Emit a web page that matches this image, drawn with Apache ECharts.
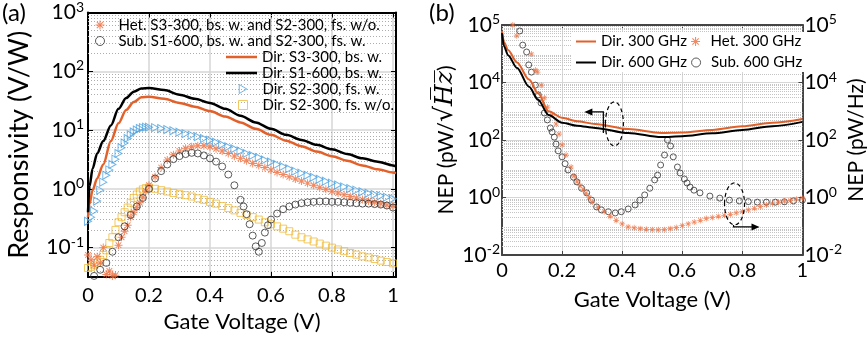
<!DOCTYPE html>
<html>
<head>
<meta charset="utf-8">
<script src="https://cdn.jsdelivr.net/npm/echarts@6/dist/echarts.min.js"></script>
<style>
  html, body { margin: 0; padding: 0; background: #fff; }
  #chart { width: 868px; height: 338px; }
</style>
</head>
<body>
<div id="chart"></div>
<script>
// ---------- panel (a): responsivity vs gate voltage ----------
const lineV = [0, 0.005, 0.015, 0.03, 0.05, 0.075, 0.1, 0.125, 0.15, 0.175, 0.2, 0.25, 0.3, 0.35,
  0.4, 0.45, 0.5, 0.55, 0.6, 0.65, 0.7, 0.75, 0.8, 0.85, 0.9, 0.95, 1.0, 1.01];
const dirS1_600 = [0.4, 1.1, 2.2, 4.0, 6.5, 12, 23, 35, 45, 51, 52, 48, 40, 34,
  29, 23, 17.5, 13.5, 10.5, 8.3, 6.8, 5.6, 4.7, 3.9, 3.3, 2.9, 2.5, 2.4];
const dirS3_300 = [0.33, 0.55, 0.95, 1.5, 2.6, 6.5, 13, 22, 30, 36, 37, 34, 29, 25,
  21, 17, 13.5, 10.5, 8.3, 6.6, 5.3, 4.3, 3.6, 3.0, 2.5, 2.15, 1.9, 1.85];

const denseV = [0, 0.01, 0.02, 0.03, 0.04, 0.05, 0.06, 0.07, 0.08, 0.09, 0.1, 0.11, 0.12, 0.13, 0.14,
  0.15, 0.16, 0.17, 0.18, 0.19, 0.2, 0.22, 0.24, 0.26, 0.28, 0.3, 0.32, 0.34, 0.36, 0.38, 0.4,
  0.42, 0.44, 0.46, 0.48, 0.5, 0.52, 0.54, 0.56, 0.58, 0.6, 0.62, 0.64, 0.66, 0.68, 0.7, 0.72,
  0.74, 0.76, 0.78, 0.8, 0.82, 0.84, 0.86, 0.88, 0.9, 0.92, 0.94, 0.96, 0.98, 1.0];
const dirS2_fsW = [0.28, 0.33, 0.42, 0.62, 0.95, 1.3, 1.7, 2.1, 2.6, 3.2, 4.0, 5.0, 6.0, 7.2, 8.3,
  9.3, 10.0, 10.6, 11.0, 11.2, 11.2, 11, 10.6, 10.2, 9.7, 9.2, 8.7, 8.2, 7.7, 7.2, 6.7,
  6.2, 5.7, 5.2, 4.8, 4.4, 4.0, 3.7, 3.4, 3.1, 2.85, 2.6, 2.4, 2.2, 2.0, 1.85, 1.7,
  1.57, 1.45, 1.35, 1.25, 1.16, 1.08, 1.01, 0.95, 0.89, 0.84, 0.8, 0.76, 0.72, 0.68];
const dirS2_fsWo = [0.045, 0.047, 0.05, 0.055, 0.062, 0.075, 0.09, 0.12, 0.15, 0.2, 0.27, 0.33, 0.4, 0.48, 0.58,
  0.7, 0.8, 0.9, 0.98, 1.03, 1.05, 1.0, 0.95, 0.9, 0.85, 0.81, 0.78, 0.74, 0.69, 0.65, 0.6,
  0.56, 0.51, 0.47, 0.43, 0.39, 0.36, 0.33, 0.3, 0.27, 0.25, 0.23, 0.21, 0.19, 0.166, 0.15, 0.138,
  0.127, 0.117, 0.108, 0.1, 0.093, 0.087, 0.081, 0.076, 0.071, 0.068, 0.064, 0.06, 0.057, 0.054];
const hetS3_300 = [0.075, 0.062, 0.05, 0.07, 0.055, 0.1, 0.035, 0.04, 0.033, 0.034, 0.11, 0.15, 0.19, 0.24, 0.33,
  0.4, 0.48, 0.58, 0.72, 0.92, 1.15, 1.6, 2.3, 3.1, 3.8, 4.4, 4.9, 5.2, 5.4, 5.4, 5.2,
  4.8, 4.4, 4.0, 3.6, 3.3, 3.0, 2.7, 2.5, 2.3, 2.1, 1.9, 1.75, 1.6, 1.47, 1.36, 1.25,
  1.15, 1.06, 0.98, 0.91, 0.85, 0.79, 0.74, 0.7, 0.66, 0.62, 0.59, 0.56, 0.53, 0.51];

const subV = [0.02, 0.04, 0.06, 0.08, 0.1, 0.12, 0.14, 0.16, 0.18, 0.2, 0.22, 0.24, 0.26, 0.28, 0.3,
  0.32, 0.34, 0.36, 0.38, 0.4, 0.42, 0.44, 0.46, 0.48, 0.5, 0.51, 0.52, 0.53, 0.54, 0.55,
  0.56, 0.57, 0.58, 0.59, 0.6, 0.62, 0.64, 0.66, 0.68, 0.7, 0.72, 0.74, 0.76, 0.78, 0.8,
  0.82, 0.84, 0.86, 0.88, 0.9, 0.92, 0.94, 0.96, 0.98, 1.0];
const subS1_600 = [0.033, 0.042, 0.055, 0.085, 0.15, 0.23, 0.36, 0.5, 0.7, 1.0, 1.5, 2.0, 2.6, 3.2, 3.6,
  3.9, 4.1, 4.0, 3.7, 3.3, 2.9, 2.4, 1.75, 1.15, 0.65, 0.5, 0.37, 0.25, 0.16, 0.105,
  0.085, 0.12, 0.18, 0.24, 0.3, 0.38, 0.45, 0.5, 0.54, 0.57, 0.59, 0.6, 0.61, 0.61, 0.6,
  0.6, 0.59, 0.58, 0.57, 0.56, 0.56, 0.55, 0.54, 0.52, 0.48];

// ---------- panel (b): NEP vs gate voltage ----------
const nepLineV = [0, 0.007, 0.02, 0.05, 0.09, 0.12, 0.155, 0.2, 0.25, 0.31, 0.42, 0.53, 0.6, 0.7, 0.8, 0.9, 1.0];
const nepDir300 = [6.3e5, 2.5e5, 1.35e5, 5.0e4, 1.26e4, 4.2e3, 1.0e3, 590, 450, 360, 240, 175, 182, 224, 300, 400, 540];
const nepDir600 = [5.2e5, 1.8e5, 8.9e4, 3.2e4, 7.1e3, 2.5e3, 740, 400, 316, 263, 174, 126, 135, 170, 224, 302, 427];

const nepHetV = [0.036, 0.049, 0.098, 0.111, 0.118, 0.131, 0.141, 0.151, 0.167, 0.18, 0.19, 0.2, 0.213, 0.23,
  0.24, 0.25, 0.26, 0.27, 0.28, 0.29, 0.3, 0.32, 0.34, 0.36, 0.38, 0.4, 0.42, 0.44, 0.46, 0.48,
  0.5, 0.52, 0.54, 0.56, 0.58, 0.6, 0.62, 0.64, 0.66, 0.68, 0.7, 0.72, 0.74, 0.76, 0.78, 0.8,
  0.82, 0.84, 0.86, 0.88, 0.9, 0.92, 0.94, 0.96, 0.98, 1.0];
const nepHet300 = [1e6, 4.2e5, 9.8e4, 2.7e4, 2.3e4, 8.1e3, 2.9e3, 1.4e3, 740, 360, 160, 68, 30, 11.5,
  5.5, 3.6, 2.6, 1.9, 1.4, 1.0, 0.7, 0.45, 0.32, 0.22, 0.16, 0.12, 0.095, 0.088, 0.082, 0.078,
  0.076, 0.075, 0.076, 0.082, 0.09, 0.105, 0.12, 0.14, 0.16, 0.185, 0.2, 0.22, 0.24, 0.26, 0.29, 0.32,
  0.37, 0.42, 0.48, 0.55, 0.62, 0.69, 0.75, 0.8, 0.87, 0.95];

const nepSubV = [0.059, 0.069, 0.082, 0.089, 0.098, 0.111, 0.121, 0.13, 0.141, 0.151, 0.161, 0.167, 0.174,
  0.18, 0.187, 0.2, 0.21, 0.22, 0.238, 0.249, 0.265, 0.282, 0.298, 0.315, 0.331, 0.354, 0.377,
  0.397, 0.42, 0.443, 0.459, 0.475, 0.492, 0.508, 0.518, 0.528, 0.541, 0.551, 0.561, 0.57,
  0.584, 0.593, 0.607, 0.616, 0.626, 0.639, 0.659, 0.692, 0.725, 0.757, 0.79, 0.82, 0.85,
  0.88, 0.91, 0.94, 0.97, 1.0];
const nepSub600 = [6.2e5, 2.0e5, 1.15e5, 4.1e4, 2.3e4, 8.1e3, 3.7e3, 1.95e3, 870, 500, 263, 190, 126,
  72, 42, 26, 15, 9.1, 5.1, 3.5, 2.1, 1.45, 0.81, 0.47, 0.37, 0.32, 0.29,
  0.32, 0.4, 0.55, 0.81, 1.23, 2.1, 4.1, 6.0, 13.5, 30, 100, 62, 26,
  11.5, 7.1, 4.4, 3.2, 2.3, 1.8, 1.45, 1.12, 0.95, 0.81, 0.76, 0.72, 0.69,
  0.69, 0.69, 0.71, 0.76, 0.81];

// tick labels of the NEP axes as printed (exponent text per tick)
const nepTickValues = [1e-2, 1, 1e2, 1e4, 1e6];
const nepTickExp = ['-2', '0', '2', '4', '5'];

// annotation anchors (data coords of panel b)
const leftArrowAnchor = [0.374, 363];
const rightArrowAnchor = [0.774, 0.6];

const FONT = 'Lato';
const zip = (xs, ys) => xs.map((x, i) => [x, ys[i]]);
const asterisk = 'path://M-10,-1.2L10,-1.2L10,1.2L-10,1.2Z M-1.2,-10L1.2,-10L1.2,10L-1.2,10Z ' +
  'M-6.22,-7.92L7.92,6.22L6.22,7.92L-7.92,-6.22Z M-7.92,6.22L6.22,-7.92L7.92,-6.22L-6.22,7.92Z';
const triRight = 'path://M0,0L10,6L0,12Z';
const barIconA = 'path://M0,0H31V2.5H0Z';
const barIconB = 'path://M0,0H20V2H0Z';

const C_ORANGE = '#e2612a';
const C_AST = '#ee6d3c';
const C_BLUE = '#4da3e0';
const C_YELLOW = '#f0bd3c';

function minorLines(lo, hi) {
  const out = [];
  for (let d = -3; d <= 6; d++) {
    for (let k = 2; k <= 9; k++) {
      const v = k * Math.pow(10, d);
      if (v > lo && v < hi) out.push({ yAxis: v });
    }
  }
  return out;
}

const supRich = {
  b: { fontSize: 21, fontFamily: FONT, color: '#000', lineHeight: 25 },
  s: { fontSize: 14, fontFamily: FONT, color: '#000', verticalAlign: 'top', lineHeight: 15 }
};
function decadeLabel(v) {
  const e = Math.log10(v);
  if (Math.abs(e - Math.round(e)) > 1e-6) return '';
  return '{b|10}{s|' + Math.round(e) + '}';
}
function nepLabel(v) {
  const e = Math.log10(v);
  for (let i = 0; i < nepTickValues.length; i++) {
    if (Math.abs(Math.log10(nepTickValues[i]) - e) < 1e-6) return '{b|10}{s|' + nepTickExp[i] + '}';
  }
  return '';
}
const xLabelFmt = v => (Math.abs(v * 5 - Math.round(v * 5)) < 1e-6 ? String(+v.toFixed(1)) : '');

const rMin = Math.pow(10, -1.5);
const rMax = 1000;
const legendText = { fontFamily: FONT, fontSize: 15, lineHeight: 16, color: '#000' };

const chart = echarts.init(document.getElementById('chart'));
chart.setOption({
  animation: false,
  backgroundColor: '#fff',
  title: [
    { text: '(a)', left: 2, top: 1, padding: 0, textStyle: { fontFamily: FONT, fontSize: 24, fontWeight: 'normal', color: '#000' } },
    { text: '(b)', left: 429, top: 1, padding: 0, textStyle: { fontFamily: FONT, fontSize: 24, fontWeight: 'normal', color: '#000' } }
  ],
  grid: [
    { left: 88, top: 8, width: 308, height: 269 },
    { left: 502, top: 25, width: 305, height: 230 }
  ],
  legend: [
    {
      left: 95, top: 17, orient: 'vertical', padding: 0, itemGap: 0, itemWidth: 9, itemHeight: 9,
      textStyle: Object.assign({ padding: [0, 0, 0, 9] }, legendText),
      data: [
        { name: 'Het. S3-300, bs. w. and S2-300, fs. w/o.', itemStyle: { color: C_AST, borderWidth: 0 } },
        { name: 'Sub. S1-600, bs. w. and S2-300, fs. w.', itemStyle: { color: 'transparent', borderColor: '#333', borderWidth: 1 } }
      ]
    },
    {
      left: 226, top: 49, orient: 'vertical', padding: 0, itemGap: 0, itemWidth: 31, itemHeight: 9,
      textStyle: legendText,
      data: [
        { name: 'Dir. S3-300, bs. w.', icon: barIconA, itemStyle: { color: C_ORANGE, borderWidth: 0 } },
        { name: 'Dir. S1-600, bs. w.', icon: barIconA, itemStyle: { color: '#000', borderWidth: 0 } }
      ]
    },
    {
      left: 238, top: 81, orient: 'vertical', padding: 0, itemGap: 0, itemWidth: 9, itemHeight: 9,
      textStyle: Object.assign({ padding: [0, 0, 0, 10] }, legendText),
      data: [
        { name: 'Dir. S2-300, fs. w.', icon: triRight, itemStyle: { color: 'transparent', borderColor: C_BLUE, borderWidth: 1 } },
        { name: 'Dir. S2-300, fs. w/o.', itemStyle: { color: 'transparent', borderColor: C_YELLOW, borderWidth: 1 } }
      ]
    },
    {
      left: 572, top: 32, width: 240, padding: [1, 4], itemGap: 4, itemWidth: 20, itemHeight: 9,
      backgroundColor: '#fff', z: 6,
      textStyle: { fontFamily: FONT, fontSize: 15, lineHeight: 17, color: '#000' },
      data: [
        { name: 'Dir. 300 GHz', icon: barIconB, itemStyle: { color: C_ORANGE, borderWidth: 0 } },
        { name: 'Het. 300 GHz', itemStyle: { color: C_AST, borderWidth: 0 } },
        { name: 'Dir. 600 GHz', icon: barIconB, itemStyle: { color: '#000', borderWidth: 0 } },
        { name: 'Sub. 600 GHz', itemStyle: { color: 'transparent', borderColor: '#333', borderWidth: 1 } }
      ]
    }
  ],
  xAxis: [
    {
      gridIndex: 0, type: 'value', min: 0, max: 1.01, interval: 0.2,
      name: 'Gate Voltage (V)', nameLocation: 'middle', nameGap: 32,
      nameTextStyle: { fontFamily: FONT, fontSize: 22, color: '#000' },
      axisLine: { lineStyle: { color: '#000', width: 2 } },
      axisTick: { inside: true, length: 5, lineStyle: { color: '#000' } },
      axisLabel: { fontFamily: FONT, fontSize: 20, color: '#000', margin: 9, formatter: xLabelFmt, showMaxLabel: false },
      splitLine: { show: true, lineStyle: { color: '#d6d6d6', width: 1.5 } }
    },
    {
      gridIndex: 0, type: 'value', position: 'top', min: 0, max: 1.01, interval: 0.2,
      axisLine: { onZero: false, lineStyle: { color: '#000', width: 2 } },
      axisTick: { inside: true, length: 5, lineStyle: { color: '#000' } },
      axisLabel: { show: false }, splitLine: { show: false }
    },
    {
      gridIndex: 1, type: 'value', min: 0, max: 1, interval: 0.2,
      name: 'Gate Voltage (V)', nameLocation: 'middle', nameGap: 34,
      nameTextStyle: { fontFamily: FONT, fontSize: 22, color: '#000' },
      axisLine: { lineStyle: { color: '#444', width: 2 } },
      axisTick: { inside: true, length: 4, lineStyle: { color: '#444' } },
      axisLabel: { fontFamily: FONT, fontSize: 20, color: '#000', margin: 6, formatter: xLabelFmt },
      splitLine: { show: true, lineStyle: { color: '#d6d6d6', width: 1 } }
    },
    {
      gridIndex: 1, type: 'value', position: 'top', min: 0, max: 1, interval: 0.2,
      axisLine: { onZero: false, lineStyle: { color: '#444', width: 2 } },
      axisTick: { inside: true, length: 4, lineStyle: { color: '#444' } },
      axisLabel: { show: false }, splitLine: { show: false }
    }
  ],
  yAxis: [
    {
      gridIndex: 0, type: 'log', logBase: 10, min: rMin, max: rMax, splitNumber: 5,
      name: 'Responsivity (V/W)', nameLocation: 'middle', nameGap: 55, nameRotate: 90,
      nameTextStyle: { fontFamily: FONT, fontSize: 27, color: '#000' },
      axisLine: { lineStyle: { color: '#000', width: 2 } },
      axisTick: { inside: true, length: 5, lineStyle: { color: '#000' } },
      axisLabel: { formatter: decadeLabel, rich: supRich, margin: 4, showMinLabel: false },
      splitLine: { show: true, lineStyle: { color: '#d6d6d6', width: 1.5 } }
    },
    {
      gridIndex: 0, type: 'log', logBase: 10, position: 'right', min: rMin, max: rMax, splitNumber: 5,
      axisLine: { onZero: false, lineStyle: { color: '#000', width: 2 } },
      axisTick: { inside: true, length: 5, lineStyle: { color: '#000' } },
      axisLabel: { show: false }, splitLine: { show: false }
    },
    {
      gridIndex: 1, type: 'log', logBase: 10, min: 1e-2, max: 1e6, interval: 2, splitNumber: 4,
      name: '{n|NEP (pW/}{r|√}{hz|H\u0305z\u0305}{n|)}', nameLocation: 'middle', nameGap: 38, nameRotate: 90,
      nameTextStyle: {
        fontFamily: FONT, fontSize: 21, color: '#000',
        rich: {
          n: { fontFamily: FONT, fontSize: 21, color: '#000' },
          r: { fontFamily: 'DejaVu Sans', fontSize: 25, color: '#000' },
          hz: { fontFamily: 'DejaVu Serif', fontStyle: 'italic', fontSize: 25, color: '#000' }
        }
      },
      axisLine: { lineStyle: { color: '#444', width: 2 } },
      axisTick: { inside: true, length: 4, lineStyle: { color: '#444' } },
      axisLabel: { formatter: nepLabel, rich: supRich, margin: 2 },
      splitLine: { show: true, lineStyle: { color: '#d6d6d6', width: 1 } }
    },
    {
      gridIndex: 1, type: 'log', logBase: 10, position: 'right', min: 1e-2, max: 1e6, interval: 2, splitNumber: 4,
      name: 'NEP (pW/Hz)', nameLocation: 'middle', nameGap: 40, nameRotate: 90,
      nameTextStyle: { fontFamily: FONT, fontSize: 21, color: '#000' },
      axisLine: { onZero: false, lineStyle: { color: '#444', width: 2 } },
      axisTick: { inside: true, length: 4, lineStyle: { color: '#444' } },
      axisLabel: { formatter: nepLabel, rich: supRich, margin: 2 },
      splitLine: { show: false }
    }
  ],
  series: [
    // panel (a)
    {
      name: 'Dir. S2-300, fs. w/o.', type: 'scatter', xAxisIndex: 0, yAxisIndex: 0,
      symbol: 'rect', symbolSize: 7,
      itemStyle: { color: 'transparent', borderColor: C_YELLOW, borderWidth: 1 },
      data: zip(denseV, dirS2_fsWo),
      markLine: {
        silent: true, symbol: 'none', label: { show: false }, z: 1,
        lineStyle: { color: '#adadad', width: 1, type: [1, 2] },
        data: minorLines(rMin, rMax)
      }
    },
    {
      name: 'Het. S3-300, bs. w. and S2-300, fs. w/o.', type: 'scatter', xAxisIndex: 0, yAxisIndex: 0,
      symbol: asterisk, symbolSize: 8, itemStyle: { color: C_AST },
      data: zip(denseV, hetS3_300)
    },
    {
      name: 'Sub. S1-600, bs. w. and S2-300, fs. w.', type: 'scatter', xAxisIndex: 0, yAxisIndex: 0,
      symbol: 'circle', symbolSize: 7,
      itemStyle: { color: 'transparent', borderColor: '#333', borderWidth: 1 },
      data: zip(subV, subS1_600)
    },
    {
      name: 'Dir. S2-300, fs. w.', type: 'scatter', xAxisIndex: 0, yAxisIndex: 0,
      symbol: triRight, symbolSize: [7, 8],
      itemStyle: { color: 'transparent', borderColor: C_BLUE, borderWidth: 1 },
      data: zip(denseV, dirS2_fsW)
    },
    {
      name: 'Dir. S3-300, bs. w.', type: 'line', xAxisIndex: 0, yAxisIndex: 0,
      symbol: 'none', smooth: 0.3, smoothMonotone: 'x',
      lineStyle: { color: C_ORANGE, width: 2.5 }, itemStyle: { color: C_ORANGE },
      data: zip(lineV, dirS3_300)
    },
    {
      name: 'Dir. S1-600, bs. w.', type: 'line', xAxisIndex: 0, yAxisIndex: 0,
      symbol: 'none', smooth: 0.3, smoothMonotone: 'x',
      lineStyle: { color: '#000', width: 2.5 }, itemStyle: { color: '#000' },
      data: zip(lineV, dirS1_600)
    },
    // panel (b)
    {
      name: 'Sub. 600 GHz', type: 'scatter', xAxisIndex: 2, yAxisIndex: 2,
      symbol: 'circle', symbolSize: 6,
      itemStyle: { color: 'transparent', borderColor: '#333', borderWidth: 1 },
      data: zip(nepSubV, nepSub600),
      markLine: {
        silent: true, symbol: 'none', label: { show: false }, z: 1,
        lineStyle: { color: '#c4c4c4', width: 1, type: [1, 1] },
        data: minorLines(1e-2, 1e6)
      }
    },
    {
      name: 'Het. 300 GHz', type: 'scatter', xAxisIndex: 2, yAxisIndex: 2,
      symbol: asterisk, symbolSize: 6, itemStyle: { color: C_AST },
      data: zip(nepHetV, nepHet300)
    },
    {
      name: 'Dir. 300 GHz', type: 'line', xAxisIndex: 2, yAxisIndex: 2,
      symbol: 'none', smooth: 0.3, smoothMonotone: 'x',
      lineStyle: { color: C_ORANGE, width: 2 }, itemStyle: { color: C_ORANGE },
      data: zip(nepLineV, nepDir300)
    },
    {
      name: 'Dir. 600 GHz', type: 'line', xAxisIndex: 2, yAxisIndex: 2,
      symbol: 'none', smooth: 0.3, smoothMonotone: 'x',
      lineStyle: { color: '#000', width: 2 }, itemStyle: { color: '#000' },
      data: zip(nepLineV, nepDir600)
    }
  ]
});

// dashed ellipses with arrows, placed from data coordinates of panel (b)
const finder = { xAxisIndex: 2, yAxisIndex: 2 };
const p1 = chart.convertToPixel(finder, leftArrowAnchor);
const p2 = chart.convertToPixel(finder, rightArrowAnchor);
const dash = { fill: null, stroke: '#000', lineWidth: 1.2, lineDash: [4, 3] };
const solid = { fill: null, stroke: '#000', lineWidth: 1.2 };
chart.setOption({
  graphic: [
    { type: 'ellipse', shape: { cx: p1[0], cy: p1[1], rx: 9, ry: 22 }, style: dash, z: 100 },
    { type: 'polyline', shape: { points: [[p1[0] - 11, p1[1] + 9], [p1[0] - 11, p1[1] - 12], [p1[0] - 23, p1[1] - 12]] }, style: solid, z: 100 },
    { type: 'polygon', shape: { points: [[p1[0] - 30, p1[1] - 12], [p1[0] - 22, p1[1] - 15.5], [p1[0] - 22, p1[1] - 8.5]] }, style: { fill: '#000' }, z: 100 },
    { type: 'ellipse', shape: { cx: p2[0], cy: p2[1], rx: 10, ry: 21 }, style: dash, z: 100 },
    { type: 'polyline', shape: { points: [[p2[0] - 1, p2[1] + 21], [p2[0] - 1, p2[1] + 23], [p2[0] + 18, p2[1] + 23]] }, style: solid, z: 100 },
    { type: 'polygon', shape: { points: [[p2[0] + 25, p2[1] + 23], [p2[0] + 17, p2[1] + 19.5], [p2[0] + 17, p2[1] + 26.5]] }, style: { fill: '#000' }, z: 100 }
  ]
});
</script>
</body>
</html>
